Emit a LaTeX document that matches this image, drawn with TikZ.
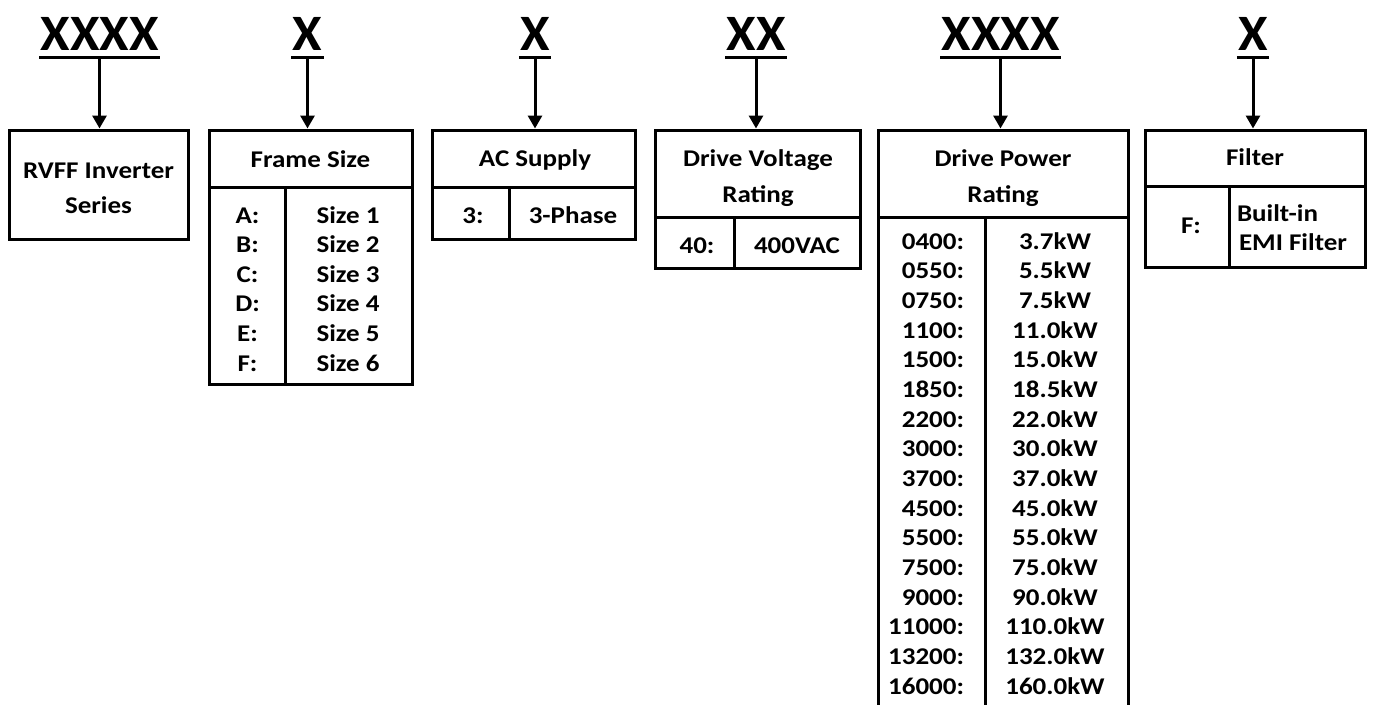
\documentclass[tikz,border=0pt]{standalone}
\usepackage{fontspec}
\setmainfont{Carlito}[FakeStretch=1.125]
\newfontfamily\bigfont{Carlito}[FakeStretch=1.05]
\usetikzlibrary{arrows.meta}
\begin{document}
\begin{tikzpicture}[x=1pt,y=-1pt,
  box/.style={draw, line width=3pt, outer sep=0pt, inner sep=0pt},
  div/.style={line width=3pt},
  txt/.style={font=\fontsize{24}{29}\selectfont\bfseries, inner sep=0pt, outer sep=0pt, anchor=base},
  big/.style={font=\fontsize{51}{60}\selectfont\bigfont\bfseries, inner xsep=1.5pt, inner ysep=7pt, outer sep=0pt, anchor=base},
  arr/.style={line width=3pt, -{Triangle[width=14pt,length=13pt]}, shorten >=1.5pt},
  ul/.style={line width=3pt}]
\useasboundingbox (0,0) rectangle (1373,704);
\clip (0,0) rectangle (1373,704);

% boxes
\node[box, minimum width=179pt, minimum height=109pt] (b1) at (98.5,184.5) {};
\node[box, minimum width=203pt, minimum height=254pt] (b2) at (310.5,257) {};
\node[box, minimum width=203pt, minimum height=109pt] (b3) at (533.5,184.5) {};
\node[box, minimum width=205pt, minimum height=138pt] (b4) at (757.5,199) {};
\node[box, minimum width=250pt, minimum height=620pt] (b5) at (1003,440) {};
\node[box, minimum width=220pt, minimum height=137pt] (b6) at (1255,198.5) {};

% dividers
\draw[div] (b2.west |- 0,187) -- (b2.east |- 0,187);
\draw[div] (285,187) -- (285,0 |- b2.south);
\draw[div] (b3.west |- 0,187) -- (b3.east |- 0,187);
\draw[div] (509,187) -- (509,0 |- b3.south);
\draw[div] (b4.west |- 0,217) -- (b4.east |- 0,217);
\draw[div] (734,217) -- (734,0 |- b4.south);
\draw[div] (b5.west |- 0,217) -- (b5.east |- 0,217);
\draw[div] (985,217) -- (985,0 |- b5.south);
\draw[div] (b6.west |- 0,186) -- (b6.east |- 0,186);
\draw[div] (1229,186) -- (1229,0 |- b6.south);

% code labels
\node[big] (l1) at (99.5,50) {XXXX};
\node[big] (l2) at (307.5,50) {X};
\node[big] (l3) at (535,50) {X};
\node[big] (l4) at (756,50) {XX};
\node[big] (l5) at (1000.5,50) {XXXX};
\node[big] (l6) at (1253,50) {X};
\foreach \n/\b in {l1/b1,l2/b2,l3/b3,l4/b4,l5/b5,l6/b6}{
  \draw[ul] (\n.south west) -- (\n.south east);
  \draw[arr] (\n.south) -- (\n.south |- \b.north);
}

% box 1
\node[txt] (t1a) at (98.5,178) {RVFF Inverter};
\node[txt] (t1b) at (98.5,213) {Series};

% box 2
\node[txt] (t2) at (310.5,167) {Frame Size};
\foreach \l/\r [count=\i from 0] in {A/1,B/2,C/3,D/4,E/5,F/6}{
  \node[txt] (fl\i) at (247.5,{223+29.6*\i}) {\l:};
  \node[txt] (fr\i) at (348,{223+29.6*\i}) {Size \r};
}

% box 3
\node[txt] (t3) at (535,166) {AC Supply};
\node[txt] (t3a) at (473,223) {3:};
\node[txt] (t3b) at (573,223) {3-Phase};

% box 4
\node[txt] (t4a) at (758,166) {Drive Voltage};
\node[txt] (t4b) at (758,202) {Rating};
\node[txt] (t4c) at (697,253) {40:};
\node[txt] (t4d) at (797,253) {400VAC};

% box 5
\node[txt] (t5a) at (1003,166) {Drive Power};
\node[txt] (t5b) at (1003,202) {Rating};
\foreach \c/\p [count=\i from 0] in {0400/3.7,0550/5.5,0750/7.5,1100/11.0,1500/15.0,1850/18.5,2200/22.0,3000/30.0,3700/37.0,4500/45.0,5500/55.0,7500/75.0,9000/90.0,11000/110.0,13200/132.0,16000/160.0}{
  \node[txt, anchor=base east] (pl\i) at (964,{249+29.67*\i}) {\c:};
  \node[txt] (pr\i) at (1055,{249+29.67*\i}) {\p kW};
}

% box 6
\node[txt] (t6) at (1255,165) {Filter};
\node[txt] (t6a) at (1191,233) {F:};
\node[txt, anchor=base west] (t6b) at (1237,221) {Built-in};
\node[txt, anchor=base west] (t6c) at (1239,250) {EMI Filter};
\end{tikzpicture}
\end{document}
